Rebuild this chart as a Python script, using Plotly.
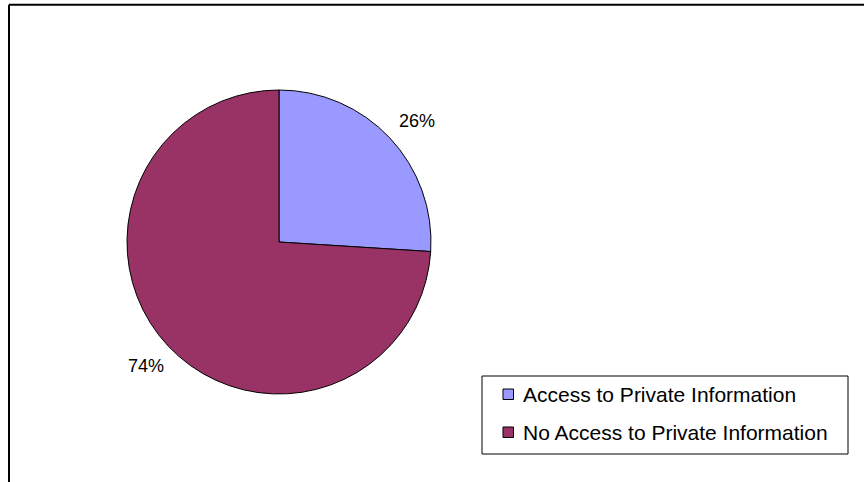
import plotly.graph_objects as go

labels = ["Access to Private Information", "No Access to Private Information"]
values = [26, 74]
colors = ["#9999FF", "#993366"]

W, H = 864, 482
cx, cy, r = 279, 242, 152
FONT = "Liberation Sans, Arial, sans-serif"

def px(x):
    return x / W

def py(y):
    return 1 - y / H

fig = go.Figure(go.Pie(
    labels=labels, values=values, sort=False, direction="clockwise", rotation=0,
    marker=dict(colors=colors, line=dict(color="black", width=1)),
    textinfo="none", hoverinfo="label+percent", showlegend=False,
    domain=dict(x=[px(cx - r), px(cx + r)], y=[py(cy + r), py(cy - r)]),
))

total = sum(values)
label_pos = [(416.5, 120.5), (145.5, 366)]
annotations = []
for v, (lx, ly) in zip(values, label_pos):
    annotations.append(dict(
        text=f"{round(100 * v / total)}%", x=px(lx), y=py(ly), xref="paper", yref="paper",
        showarrow=False, font=dict(family=FONT, size=18, color="black"),
        xanchor="center", yanchor="middle"))

shapes = [
    dict(type="line", xref="paper", yref="paper", x0=px(9), x1=1.02, y0=py(4.7), y1=py(4.7),
         line=dict(color="black", width=2)),
    dict(type="line", xref="paper", yref="paper", x0=px(9), x1=px(9), y0=py(4.7), y1=-0.02,
         line=dict(color="black", width=2)),
    # legend box
    dict(type="rect", xref="paper", yref="paper", x0=px(482), x1=px(848), y0=py(454), y1=py(376),
         line=dict(color="black", width=1), fillcolor="white"),
]

# custom legend entries
row_y = [394, 432]
for lab, col, ry in zip(labels, colors, row_y):
    shapes.append(dict(type="rect", xref="paper", yref="paper",
                       x0=px(503), x1=px(513.5), y0=py(ry + 5.5), y1=py(ry - 5),
                       line=dict(color="black", width=1), fillcolor=col))
    annotations.append(dict(text=lab, x=px(521), y=py(ry), xref="paper", yref="paper",
                            showarrow=False, xanchor="left", yanchor="middle",
                            font=dict(family=FONT, size=21, color="black")))

fig.update_layout(
    width=W, height=H, margin=dict(l=0, r=0, t=0, b=0),
    paper_bgcolor="white", plot_bgcolor="white",
    showlegend=False,
    annotations=annotations, shapes=shapes,
)

fig.write_html("out.html", config={"displayModeBar": False},
               post_script="document.body.style.margin='0';document.body.style.overflow='hidden';")
